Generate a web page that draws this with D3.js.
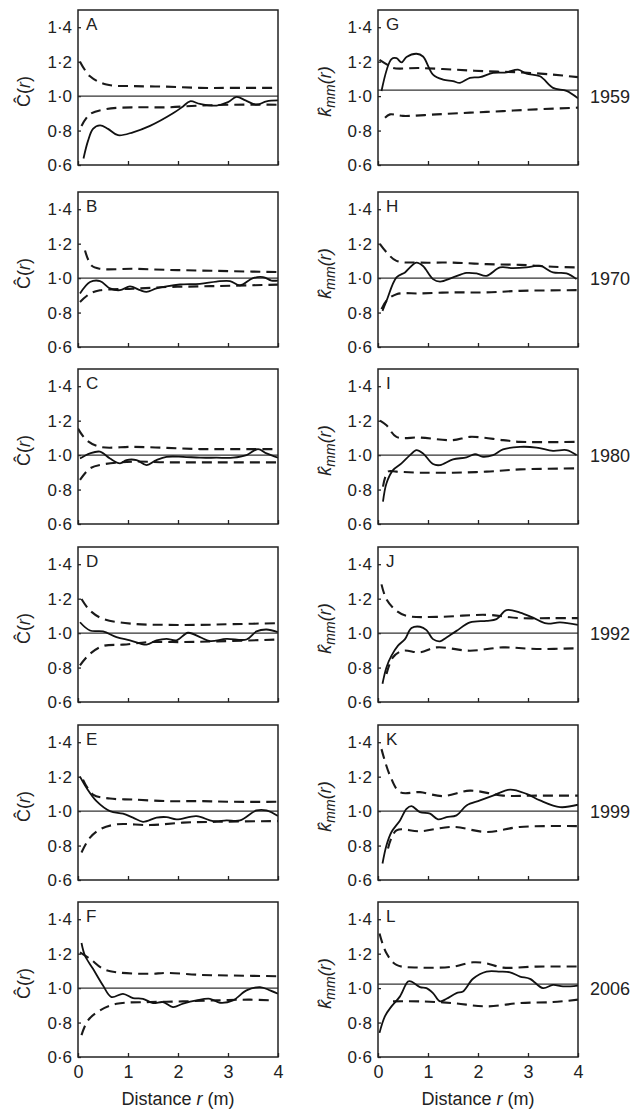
<!DOCTYPE html>
<html>
<head>
<meta charset="utf-8">
<script src="https://cdn.jsdelivr.net/npm/d3@7"></script>
<style>
  body { margin: 0; background: #fff; }
  svg { display: block; font-family: "Liberation Sans", Arial, sans-serif; }
</style>
</head>
<body>
<script>
// panel letters, years, ticks
const panelIds = ["A", "B", "C", "D", "E", "F", "G", "H", "I", "J", "K", "L"];
const years = ["1959", "1970", "1980", "1992", "1999", "2006"];
const yTicks = [0.6, 0.8, 1.0, 1.2, 1.4];
const xTicks = [0, 1, 2, 3, 4];
const refLevels = [1, 1, 1, 1, 1, 1, 1.035, 1, 1, 1, 1, 1.023];

// Ĉ(r) panels: [r, value]
const obsA = [[0.11,0.638],[0.2,0.74],[0.3,0.81],[0.44,0.83],[0.6,0.81],[0.8,0.773],[1.1,0.79],[1.44,0.827],[1.9,0.9],[2.1,0.94],[2.24,0.97],[2.44,0.955],[2.77,0.945],[3.0,0.965],[3.17,0.995],[3.35,0.975],[3.57,0.95],[3.77,0.97],[4.0,0.975]];
const upA = [[0.04,1.2],[0.24,1.115],[0.57,1.067],[1.1,1.058],[1.77,1.055],[2.44,1.048],[3.1,1.048],[4.0,1.048]];
const loA = [[0.07,0.827],[0.24,0.895],[0.57,0.925],[1.1,0.935],[1.77,0.935],[2.44,0.945],[3.1,0.95],[4.0,0.95]];

const obsB = [[0.04,0.91],[0.24,0.977],[0.44,0.983],[0.64,0.94],[0.84,0.93],[1.04,0.952],[1.24,0.93],[1.37,0.92],[1.57,0.94],[1.77,0.952],[2.04,0.963],[2.44,0.967],[2.77,0.98],[3.04,0.983],[3.24,0.958],[3.5,1.0],[3.7,1.006],[3.87,0.986],[4.0,0.986]];
const upB = [[0.14,1.16],[0.27,1.073],[0.44,1.054],[1.1,1.054],[1.77,1.048],[2.44,1.044],[3.1,1.04],[4.0,1.035]];
const loB = [[0.04,0.862],[0.24,0.91],[0.44,0.929],[1.1,0.938],[1.77,0.948],[2.44,0.952],[3.1,0.956],[4.0,0.962]];

const obsC = [[0.04,0.98],[0.24,1.01],[0.44,1.02],[0.64,0.98],[0.84,0.952],[0.97,0.971],[1.17,0.971],[1.37,0.942],[1.57,0.971],[1.77,0.99],[2.1,0.99],[2.44,0.985],[2.77,0.985],[3.1,0.985],[3.37,1.0],[3.6,1.035],[3.77,1.01],[4.0,0.985]];
const upC = [[0.0,1.154],[0.17,1.087],[0.44,1.048],[1.1,1.048],[1.77,1.042],[2.44,1.035],[3.1,1.035],[4.0,1.035]];
const loC = [[0.04,0.856],[0.24,0.923],[0.5,0.946],[1.1,0.962],[1.77,0.958],[2.44,0.958],[3.1,0.958],[4.0,0.958]];

const obsD = [[0.04,1.063],[0.24,1.015],[0.5,1.01],[0.77,0.977],[1.04,0.958],[1.37,0.933],[1.57,0.958],[1.77,0.967],[1.97,0.958],[2.2,1.002],[2.44,0.977],[2.64,0.954],[2.97,0.967],[3.37,0.963],[3.57,1.01],[3.77,1.021],[4.0,1.006]];
const upD = [[0.07,1.198],[0.24,1.131],[0.5,1.083],[1.1,1.054],[1.77,1.048],[2.44,1.048],[3.1,1.052],[4.0,1.058]];
const loD = [[0.04,0.813],[0.24,0.88],[0.5,0.925],[0.9,0.933],[1.44,0.948],[2.1,0.948],[2.77,0.952],[4.0,0.963]];

const obsE = [[0.04,1.2],[0.17,1.135],[0.37,1.058],[0.64,1.0],[0.9,0.985],[1.1,0.962],[1.3,0.938],[1.57,0.962],[1.77,0.965],[1.97,0.952],[2.37,0.971],[2.7,0.942],[2.97,0.946],[3.24,0.946],[3.57,1.004],[3.77,1.004],[4.0,0.971]];
const upE = [[0.1,1.183],[0.3,1.096],[0.64,1.073],[1.1,1.067],[1.77,1.058],[2.44,1.058],[3.1,1.054],[4.0,1.054]];
const loE = [[0.07,0.76],[0.24,0.846],[0.44,0.894],[0.77,0.923],[1.44,0.919],[2.1,0.933],[2.77,0.938],[4.0,0.942]];

const obsF = [[0.07,1.262],[0.14,1.188],[0.3,1.112],[0.5,1.015],[0.67,0.948],[0.9,0.967],[1.1,0.942],[1.3,0.938],[1.5,0.913],[1.7,0.919],[1.9,0.89],[2.1,0.91],[2.37,0.929],[2.64,0.938],[2.84,0.915],[3.1,0.929],[3.37,0.987],[3.64,1.006],[3.84,0.987],[4.0,0.967]];
const upF = [[0.04,1.208],[0.24,1.17],[0.5,1.112],[0.77,1.092],[1.44,1.083],[1.77,1.088],[2.44,1.077],[3.1,1.073],[4.0,1.069]];
const loF = [[0.07,0.727],[0.2,0.813],[0.44,0.871],[0.77,0.909],[1.44,0.919],[2.1,0.923],[2.77,0.929],[3.44,0.933],[3.84,0.929]];

// k̂mm(r) panels
const obsG = [[0.07,1.03],[0.27,1.215],[0.37,1.22],[0.47,1.196],[0.57,1.227],[0.77,1.246],[0.9,1.23],[1.1,1.125],[1.3,1.096],[1.5,1.087],[1.64,1.077],[1.84,1.106],[2.04,1.11],[2.3,1.135],[2.57,1.138],[2.8,1.154],[2.97,1.13],[3.24,1.115],[3.5,1.048],[3.77,1.03],[4.0,0.987]];
const upG = [[0.03,1.21],[0.2,1.18],[0.3,1.163],[0.84,1.163],[1.5,1.154],[2.17,1.144],[2.84,1.138],[3.5,1.125],[4.0,1.11]];
const loG = [[0.14,0.875],[0.24,0.894],[0.5,0.885],[1.17,0.894],[1.84,0.904],[2.5,0.913],[3.17,0.923],[4.0,0.933]];

const obsH = [[0.09,0.81],[0.17,0.868],[0.37,1.004],[0.54,1.033],[0.64,1.062],[0.77,1.09],[0.9,1.07],[1.1,0.994],[1.24,0.98],[1.5,1.004],[1.77,1.03],[1.97,1.027],[2.17,1.013],[2.44,1.062],[2.7,1.058],[2.97,1.062],[3.24,1.072],[3.5,1.033],[3.77,1.027],[3.97,0.994]];
const upH = [[0.04,1.197],[0.17,1.15],[0.37,1.1],[0.84,1.09],[1.5,1.09],[2.17,1.081],[2.84,1.077],[3.5,1.066],[4.0,1.062]];
const loH = [[0.07,0.82],[0.17,0.868],[0.37,0.907],[0.84,0.911],[1.5,0.917],[2.17,0.917],[2.84,0.926],[4.0,0.93]];

const obsI = [[0.1,0.73],[0.17,0.837],[0.3,0.913],[0.47,0.952],[0.64,1.0],[0.77,1.029],[0.9,1.01],[1.1,0.948],[1.24,0.942],[1.5,0.975],[1.77,0.987],[1.94,1.006],[2.1,0.99],[2.3,1.0],[2.5,1.033],[2.84,1.048],[3.17,1.044],[3.5,1.025],[3.77,1.029],[3.97,1.0]];
const upI = [[0.04,1.2],[0.17,1.173],[0.37,1.106],[0.84,1.102],[1.5,1.087],[1.84,1.106],[2.5,1.087],[2.84,1.077],[4.0,1.077]];
const loI = [[0.1,0.817],[0.2,0.904],[0.37,0.904],[0.84,0.898],[1.5,0.898],[2.17,0.904],[2.84,0.917],[4.0,0.923]];

const obsJ = [[0.09,0.706],[0.17,0.802],[0.27,0.869],[0.4,0.927],[0.54,0.965],[0.67,1.029],[0.84,1.037],[0.97,1.017],[1.1,0.965],[1.24,0.952],[1.37,0.975],[1.57,1.013],[1.84,1.062],[2.17,1.071],[2.37,1.081],[2.57,1.133],[2.84,1.119],[3.1,1.09],[3.37,1.056],[3.64,1.062],[4.0,1.048]];
const upJ = [[0.07,1.283],[0.17,1.196],[0.37,1.129],[0.57,1.1],[1.17,1.094],[2.17,1.106],[2.84,1.087],[3.5,1.087],[4.0,1.087]];
const loJ = [[0.17,0.763],[0.3,0.86],[0.5,0.898],[0.84,0.888],[1.17,0.917],[1.84,0.898],[2.5,0.917],[3.17,0.908],[4.0,0.912]];

const obsK = [[0.09,0.696],[0.17,0.802],[0.27,0.879],[0.44,0.946],[0.57,1.013],[0.67,1.029],[0.84,0.994],[1.04,0.985],[1.2,0.952],[1.37,0.965],[1.57,0.975],[1.77,1.033],[2.04,1.062],[2.3,1.09],[2.64,1.125],[2.97,1.1],[3.24,1.062],[3.64,1.023],[4.0,1.037]];
const upK = [[0.07,1.36],[0.24,1.206],[0.44,1.11],[0.84,1.11],[1.3,1.087],[1.84,1.119],[2.5,1.09],[3.17,1.09],[4.0,1.09]];
const loK = [[0.2,0.783],[0.37,0.888],[0.84,0.883],[1.5,0.908],[2.17,0.879],[2.84,0.908],[4.0,0.913]];

const obsL = [[0.03,0.74],[0.14,0.837],[0.27,0.894],[0.44,0.952],[0.6,1.038],[0.67,1.038],[0.84,1.006],[0.97,1.0],[1.1,0.971],[1.24,0.923],[1.37,0.938],[1.57,0.971],[1.7,0.981],[1.9,1.054],[2.17,1.096],[2.44,1.096],[2.64,1.092],[2.84,1.067],[3.04,1.054],[3.3,1.0],[3.5,1.019],[3.7,1.01],[4.0,1.015]];
const upL = [[0.03,1.317],[0.17,1.202],[0.37,1.135],[0.84,1.119],[1.5,1.125],[1.9,1.15],[2.17,1.144],[2.5,1.119],[3.17,1.125],[4.0,1.125]];
const loL = [[0.3,0.923],[0.84,0.923],[1.5,0.913],[2.17,0.894],[2.84,0.913],[3.5,0.919],[4.0,0.933]];

const observed = [obsA, obsB, obsC, obsD, obsE, obsF, obsG, obsH, obsI, obsJ, obsK, obsL];
const upper = [upA, upB, upC, upD, upE, upF, upG, upH, upI, upJ, upK, upL];
const lower = [loA, loB, loC, loD, loE, loF, loG, loH, loI, loJ, loK, loL];

const W = 637, H = 1109;
const colLeft = [78, 378];
const rowTop = [10, 192, 369, 547, 725, 902];
const plotW = 200, plotH = 155;
const fmt = d => d3.format(".1f")(d).replace(".", "\u00b7");

const svg = d3.select("body").append("svg").attr("width", W).attr("height", H);

const x = d3.scaleLinear().domain([0, 4]).range([0, plotW]);
const y = d3.scaleLinear().domain([0.6, 1.5]).range([plotH, 0]);
const line = d3.line().x(d => x(d[0])).y(d => y(d[1])).curve(d3.curveCatmullRom);

panelIds.forEach((id, i) => {
    const col = i < 6 ? 0 : 1, row = i % 6;
    const g = svg.append("g").attr("transform", "translate(" + colLeft[col] + "," + rowTop[row] + ")");

    g.append("clipPath").attr("id", "clip" + id)
        .append("rect").attr("width", plotW).attr("height", plotH);

    const yAxis = g.append("g").call(d3.axisLeft(y).tickValues(yTicks).tickSize(-3).tickPadding(6).tickFormat(fmt));
    yAxis.select(".domain").remove();
    yAxis.selectAll("text").attr("font-size", 17).attr("fill", "#222").attr("font-family", null);
    yAxis.selectAll("line").attr("stroke", "#222").attr("stroke-width", 1.3);

    const xAxis = g.append("g").attr("transform", "translate(0," + plotH + ")")
        .call(d3.axisBottom(x).tickValues(xTicks).tickSize(-4).tickPadding(8)
            .tickFormat(row === 5 ? d3.format("d") : ""));
    xAxis.select(".domain").remove();
    xAxis.selectAll("text").attr("font-size", 18).attr("fill", "#222").attr("font-family", null);
    xAxis.selectAll("line").attr("stroke", "#222").attr("stroke-width", 1.3);

    const plot = g.append("g").attr("clip-path", "url(#clip" + id + ")");
    plot.append("line")
        .attr("x1", x(0)).attr("x2", x(4))
        .attr("y1", y(refLevels[i])).attr("y2", y(refLevels[i]))
        .attr("stroke", "#333").attr("stroke-width", 1.2);
    [upper[i], lower[i]].forEach(env => {
        plot.append("path").attr("d", line(env))
            .attr("fill", "none").attr("stroke", "#1a1a1a")
            .attr("stroke-width", 2.1).attr("stroke-dasharray", "10,6");
    });
    plot.append("path").attr("d", line(observed[i]))
        .attr("fill", "none").attr("stroke", "#111").attr("stroke-width", 1.8);

    g.append("rect").attr("width", plotW).attr("height", plotH)
        .attr("fill", "none").attr("stroke", "#222").attr("stroke-width", 1.5);

    g.append("text").attr("x", 8).attr("y", 20).attr("font-size", 17).attr("fill", "#222").text(id);

    // y label
    const lab = g.append("text")
        .attr("transform", "translate(" + (col === 0 ? -48 : -47) + "," + (plotH / 2 + 4) + ") rotate(-90)")
        .attr("text-anchor", "middle").attr("font-size", 18).attr("fill", "#222");
    if (col === 0) {
        lab.append("tspan").text("\u0108(");
        lab.append("tspan").attr("font-style", "italic").text("r");
        lab.append("tspan").text(")");
    } else {
        lab.attr("font-style", "italic");
        lab.append("tspan").text("k\u0302");
        lab.append("tspan").attr("font-size", 14).attr("dy", 4).text("mm");
        lab.append("tspan").attr("dy", -4).text("(r)");
        g.append("text").attr("x", plotW + 12).attr("y", y(1.0) + 7)
            .attr("font-size", 18).attr("fill", "#222").text(years[row]);
    }

    if (row === 5) {
        const t = g.append("text").attr("x", plotW / 2).attr("y", plotH + 48)
            .attr("text-anchor", "middle").attr("font-size", 18).attr("fill", "#222");
        t.append("tspan").text("Distance ");
        t.append("tspan").attr("font-style", "italic").text("r");
        t.append("tspan").text(" (m)");
    }
});
</script>
</body>
</html>
